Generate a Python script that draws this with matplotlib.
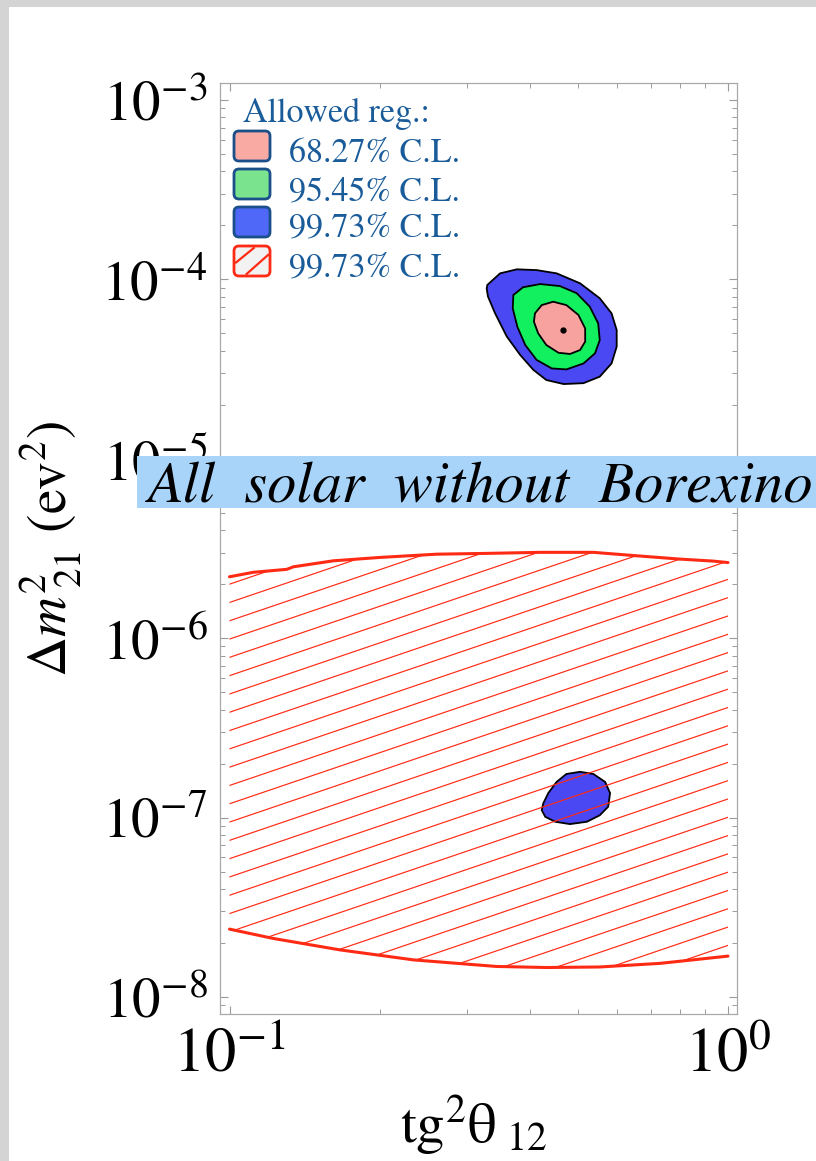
import numpy as np
import matplotlib
matplotlib.use('Agg')
import matplotlib.pyplot as plt
from matplotlib.patches import Polygon, FancyBboxPatch, Rectangle
from matplotlib.transforms import IdentityTransform

plt.rcParams['font.family'] = ['STIXGeneral', 'DejaVu Sans']
plt.rcParams['mathtext.fontset'] = 'stix'

# ---------------- data ----------------
# 99.73% C.L. region (hatched, red): upper and lower boundaries
hatch_top_x = [0.100, 0.1116, 0.1303, 0.1343, 0.1615, 0.2004, 0.2606, 0.328, 0.420, 0.537, 0.656, 0.801, 0.934, 1.0]
hatch_top_y = [2.20e-6, 2.33e-6, 2.42e-6, 2.50e-6, 2.70e-6, 2.82e-6, 2.94e-6, 2.97e-6, 3.01e-6, 3.01e-6, 2.88e-6, 2.76e-6, 2.69e-6, 2.64e-6]
hatch_bot_x = [0.100, 0.1224, 0.1667, 0.234, 0.343, 0.432, 0.553, 0.731, 1.0]
hatch_bot_y = [2.39e-8, 2.12e-8, 1.83e-8, 1.61e-8, 1.48e-8, 1.46e-8, 1.47e-8, 1.54e-8, 1.69e-8]

# 99.73% C.L. (blue) upper island
blue_x = [0.329, 0.349, 0.377, 0.413, 0.453, 0.505, 0.553, 0.584, 0.598, 0.598, 0.584, 0.553, 0.513, 0.468,
          0.432, 0.407, 0.383, 0.360, 0.341, 0.330, 0.328]
blue_y = [9.31e-5, 1.081e-4, 1.138e-4, 1.127e-4, 1.081e-4, 9.51e-5, 7.85e-5, 6.47e-5, 5.22e-5, 4.22e-5, 3.40e-5,
          2.87e-5, 2.64e-5, 2.61e-5, 2.75e-5, 3.13e-5, 3.79e-5, 4.80e-5, 6.47e-5, 8.02e-5, 8.91e-5]
# 95.45% C.L. (green)
green_x = [0.371, 0.388, 0.420, 0.460, 0.497, 0.528, 0.549, 0.553, 0.541, 0.513, 0.474, 0.443, 0.413, 0.392, 0.378, 0.370]
green_y = [8.18e-5, 9.04e-5, 9.42e-5, 9.18e-5, 8.38e-5, 7.05e-5, 5.69e-5, 4.59e-5, 3.87e-5, 3.40e-5, 3.15e-5,
           3.19e-5, 3.56e-5, 4.31e-5, 5.44e-5, 6.90e-5]
# 68.27% C.L. (pink)
pink_x = [0.410, 0.423, 0.446, 0.474, 0.501, 0.517, 0.517, 0.505, 0.482, 0.457, 0.432, 0.416, 0.408]
pink_y = [6.47e-5, 7.19e-5, 7.51e-5, 7.19e-5, 6.34e-5, 5.33e-5, 4.50e-5, 4.04e-5, 3.84e-5, 3.90e-5, 4.31e-5,
          5.01e-5, 5.81e-5]
# best fit point
best_x = [0.466]
best_y = [5.22e-5]
# 99.73% C.L. (blue) lower island
low_x = [0.426, 0.436, 0.453, 0.474, 0.505, 0.537, 0.567, 0.580, 0.575, 0.553, 0.521, 0.482, 0.450, 0.430, 0.423]
low_y = [1.20e-7, 1.37e-7, 1.58e-7, 1.75e-7, 1.80e-7, 1.75e-7, 1.58e-7, 1.37e-7, 1.15e-7, 1.03e-7, 9.48e-8,
         9.20e-8, 9.48e-8, 1.01e-7, 1.10e-7]

legend_title = 'Allowed reg.:'
legend_labels = ['68.27% C.L.', '95.45% C.L.', '99.73% C.L.', '99.73% C.L.']
banner_text = 'All  solar  without  Borexino'

# ---------------- styling ----------------
W, H = 816, 1161
PINK = '#f8a2a0'
GREEN = '#12f060'
BLUE = '#4a48f2'
RED = '#ff2a14'
LEG_EDGE = '#1a4f8a'
LEG_TEXT = '#1a5c9a'
LEG_COLORS = ['#f9aaa3', '#7ae38e', '#5068f8']

fig = plt.figure(figsize=(W / 100, H / 100), dpi=100, facecolor='#d4d4d4')
fig.patches.append(Rectangle((9 / W, 0), 1, 1 - 7 / H, transform=fig.transFigure,
                             facecolor='white', edgecolor='none', zorder=-10))

ax_l, ax_r, ax_t, ax_b = 220, 737, 83, 1014
ax = fig.add_axes([ax_l / W, (H - ax_b) / H, (ax_r - ax_l) / W, (ax_b - ax_t) / H])
ax.set_xscale('log')
ax.set_yscale('log')
ax.set_xlim(10 ** -1.01906, 10 ** 0.01805)
ax.set_ylim(10 ** -8.0948, 10 ** -2.9052)

for s in ax.spines.values():
    s.set_color('#a8a8a8')
    s.set_linewidth(0.9)
ax.tick_params(which='both', direction='in', top=True, right=True, color='#9a9a9a')
ax.tick_params(which='major', length=6, width=0.8, pad=9)
ax.tick_params(which='minor', length=3.5, width=0.7)
ax.tick_params(axis='y', which='major', labelsize=41)
ax.tick_params(axis='x', which='major', pad=10, labelsize=45)

# contour islands
ax.fill(blue_x, blue_y, facecolor=BLUE, edgecolor='black', lw=1.3, zorder=2)
ax.fill(green_x, green_y, facecolor=GREEN, edgecolor='black', lw=1.3, zorder=3)
ax.fill(pink_x, pink_y, facecolor=PINK, edgecolor='black', lw=1.3, zorder=4)
ax.plot(best_x, best_y, 'o', color='black', ms=3.5, zorder=5)
ax.fill(low_x, low_y, facecolor=BLUE, edgecolor='black', lw=1.3, zorder=2)

# hatched region
poly_x = hatch_top_x + hatch_bot_x[::-1]
poly_y = hatch_top_y + hatch_bot_y[::-1]
region = Polygon(np.column_stack([poly_x, poly_y]), closed=True, facecolor='none', edgecolor='none')
ax.add_patch(region)
axw, axh = ax_r - ax_l, ax_b - ax_t
slope = 0.34 * axw / axh
spacing = 18.3 / axh
px0, py0 = (500 - ax_l) / axw, (ax_b - 785) / axh
for k in range(-90, 90):
    y0 = py0 + k * spacing - slope * px0
    if y0 + slope < -0.05 or y0 > 1.05:
        continue
    ln, = ax.plot([0, 1], [y0, y0 + slope], transform=ax.transAxes, color=RED, lw=0.85, zorder=6)
    ln.set_clip_path(region)
ax.plot(hatch_top_x, hatch_top_y, color=RED, lw=2.2, zorder=7, solid_capstyle='round')
ax.plot(hatch_bot_x, hatch_bot_y, color=RED, lw=2.2, zorder=7, solid_capstyle='round')

# axis labels
ax.set_ylabel(r'$\mathit{\Delta m}^{2}_{\ 21}$ (ev$^2$)', fontsize=40, va='center')
ax.yaxis.set_label_coords((51 - ax_l) / axw, (ax_b - 549) / axh)
ax.set_xlabel(r'tg$^2$θ$_{\ 12}$', fontsize=41, va='baseline')
ax.xaxis.set_label_coords((474 - ax_l) / axw, (ax_b - 1143) / axh)

# legend (manual, pixel layout)
ident = IdentityTransform()
fig.text(243 / W, 1 - 122 / H, legend_title, color=LEG_TEXT, fontsize=24.5, va='baseline')
tops = [131, 169, 207, 246]
bases = [162, 200, 237, 276]
for i, lab in enumerate(legend_labels):
    x0, y0, w, h = 234, tops[i], 36, 30
    if i < 3:
        p = FancyBboxPatch((x0, H - y0 - h), w, h, boxstyle='round,pad=0,rounding_size=5',
                           facecolor=LEG_COLORS[i], edgecolor=LEG_EDGE, lw=2.0, transform=ident)
        fig.patches.append(p)
    else:
        p = FancyBboxPatch((x0, H - y0 - h), w, h, boxstyle='round,pad=0,rounding_size=5',
                           facecolor='#f2f2f2', edgecolor=RED, lw=2.0, transform=ident)
        fig.patches.append(p)
        for a, b in [((x0 + 2, H - y0 - h * 0.55), (x0 + w * 0.55, H - y0 - 2)),
                     ((x0 + w * 0.35, H - y0 - h + 2), (x0 + w - 2, H - y0 - h * 0.3))]:
            l = plt.Line2D([a[0], b[0]], [a[1], b[1]], color=RED, lw=1.6, transform=ident)
            fig.lines.append(l)
    fig.text(289 / W, 1 - bases[i] / H, lab, color=LEG_TEXT, fontsize=24.5, va='baseline')

# banner
fig.patches.append(Rectangle((137 / W, 1 - 508 / H), (816 - 137) / W, 52 / H, transform=fig.transFigure,
                             facecolor='#a8d4fa', edgecolor='none', zorder=10))
fig.text(148 / W, 1 - 503 / H, banner_text, fontsize=42, style='italic', color='black',
         va='baseline', zorder=11)

fig.savefig('out.png', dpi=100, facecolor=fig.get_facecolor())
